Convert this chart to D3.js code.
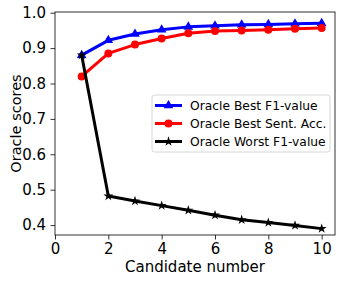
<!DOCTYPE html>
<html>
<head>
<meta charset="utf-8">
<script src="https://cdn.jsdelivr.net/npm/d3@7"></script>
<style>
  body { margin: 0; background: #fff; }
  text { font-family: "DejaVu Sans", sans-serif; }
</style>
</head>
<body>
<div id="chart"></div>
<script>
const width = 346;
const height = 282;

// data
const candidates = [1, 2, 3, 4, 5, 6, 7, 8, 9, 10];
const bestF1 = [0.880, 0.922, 0.940, 0.952, 0.960, 0.963, 0.966, 0.967, 0.969, 0.970];
const bestSentAcc = [0.820, 0.885, 0.910, 0.927, 0.942, 0.948, 0.950, 0.952, 0.955, 0.957];
const worstF1 = [0.880, 0.482, 0.468, 0.455, 0.442, 0.428, 0.415, 0.407, 0.399, 0.390];
const xTicks = [0, 2, 4, 6, 8, 10];
const yTicks = [0.4, 0.5, 0.6, 0.7, 0.8, 0.9, 1.0];

const margin = { top: 12, right: 11, bottom: 47, left: 55 };

const svg = d3.select("#chart").append("svg")
  .attr("width", width)
  .attr("height", height);

const x = d3.scaleLinear().domain([0, 10.5]).range([margin.left, width - margin.right]);
const y = d3.scaleLinear().domain([0.372, 1.002]).range([height - margin.bottom, margin.top]);

// axes
const xAxis = svg.append("g")
  .attr("transform", `translate(0,${height - margin.bottom})`)
  .call(d3.axisBottom(x).tickValues(xTicks).tickFormat(d3.format("d")).tickSize(4.5).tickPadding(4));

const yAxis = svg.append("g")
  .attr("transform", `translate(${margin.left},0)`)
  .call(d3.axisLeft(y).tickValues(yTicks).tickFormat(d3.format(".1f")).tickSize(4.5).tickPadding(4.5));

[xAxis, yAxis].forEach(g => {
  g.select(".domain").remove();
  g.selectAll("text").attr("font-size", 15).attr("fill", "#000");
  g.selectAll("line").attr("stroke", "#000").attr("stroke-width", 0.8);
});

// frame
svg.append("rect")
  .attr("x", margin.left)
  .attr("y", margin.top)
  .attr("width", width - margin.left - margin.right)
  .attr("height", height - margin.top - margin.bottom)
  .attr("fill", "none")
  .attr("stroke", "#000")
  .attr("stroke-width", 0.8);

// axis labels
svg.append("text")
  .attr("x", (margin.left + width - margin.right) / 2)
  .attr("y", 272)
  .attr("text-anchor", "middle")
  .attr("font-size", 15)
  .text("Candidate number");

svg.append("text")
  .attr("transform", `translate(21,${(margin.top + height - margin.bottom) / 2}) rotate(-90)`)
  .attr("text-anchor", "middle")
  .attr("font-size", 14.5)
  .text("Oracle scores");

const series = [
  { name: "Oracle Best F1-value", values: bestF1, color: "blue", marker: d3.symbolTriangle, size: 40 },
  { name: "Oracle Best Sent. Acc.", values: bestSentAcc, color: "red", marker: d3.symbolCircle, size: 50 },
  { name: "Oracle Worst F1-value", values: worstF1, color: "black", marker: d3.symbolStar, size: 30 }
];

const line = d3.line()
  .x((d, i) => x(candidates[i]))
  .y(d => y(d));

series.forEach(s => {
  const g = svg.append("g");
  g.append("path")
    .datum(s.values)
    .attr("fill", "none")
    .attr("stroke", s.color)
    .attr("stroke-width", 3)
    .attr("stroke-linejoin", "round")
    .attr("d", line);
  g.selectAll("path.m")
    .data(s.values)
    .enter().append("path")
    .attr("class", "m")
    .attr("transform", (d, i) => `translate(${x(candidates[i])},${y(d)})`)
    .attr("d", d3.symbol().type(s.marker).size(s.size))
    .attr("fill", s.color);
});

// legend
const legend = svg.append("g");
legend.append("rect")
  .attr("x", 152)
  .attr("y", 95)
  .attr("width", 178)
  .attr("height", 57)
  .attr("rx", 2.5)
  .attr("fill", "#fff")
  .attr("fill-opacity", 0.8)
  .attr("stroke", "#ccc")
  .attr("stroke-width", 0.8);

series.forEach((s, i) => {
  const ly = 105.5 + i * 18;
  legend.append("line")
    .attr("x1", 155).attr("x2", 182)
    .attr("y1", ly).attr("y2", ly)
    .attr("stroke", s.color)
    .attr("stroke-width", 3);
  legend.append("path")
    .attr("transform", `translate(168.5,${ly})`)
    .attr("d", d3.symbol().type(s.marker).size(s.size))
    .attr("fill", s.color);
  legend.append("text")
    .attr("x", 190)
    .attr("y", ly)
    .attr("dy", "0.35em")
    .attr("font-size", 12.3)
    .text(s.name);
});
</script>
</body>
</html>
